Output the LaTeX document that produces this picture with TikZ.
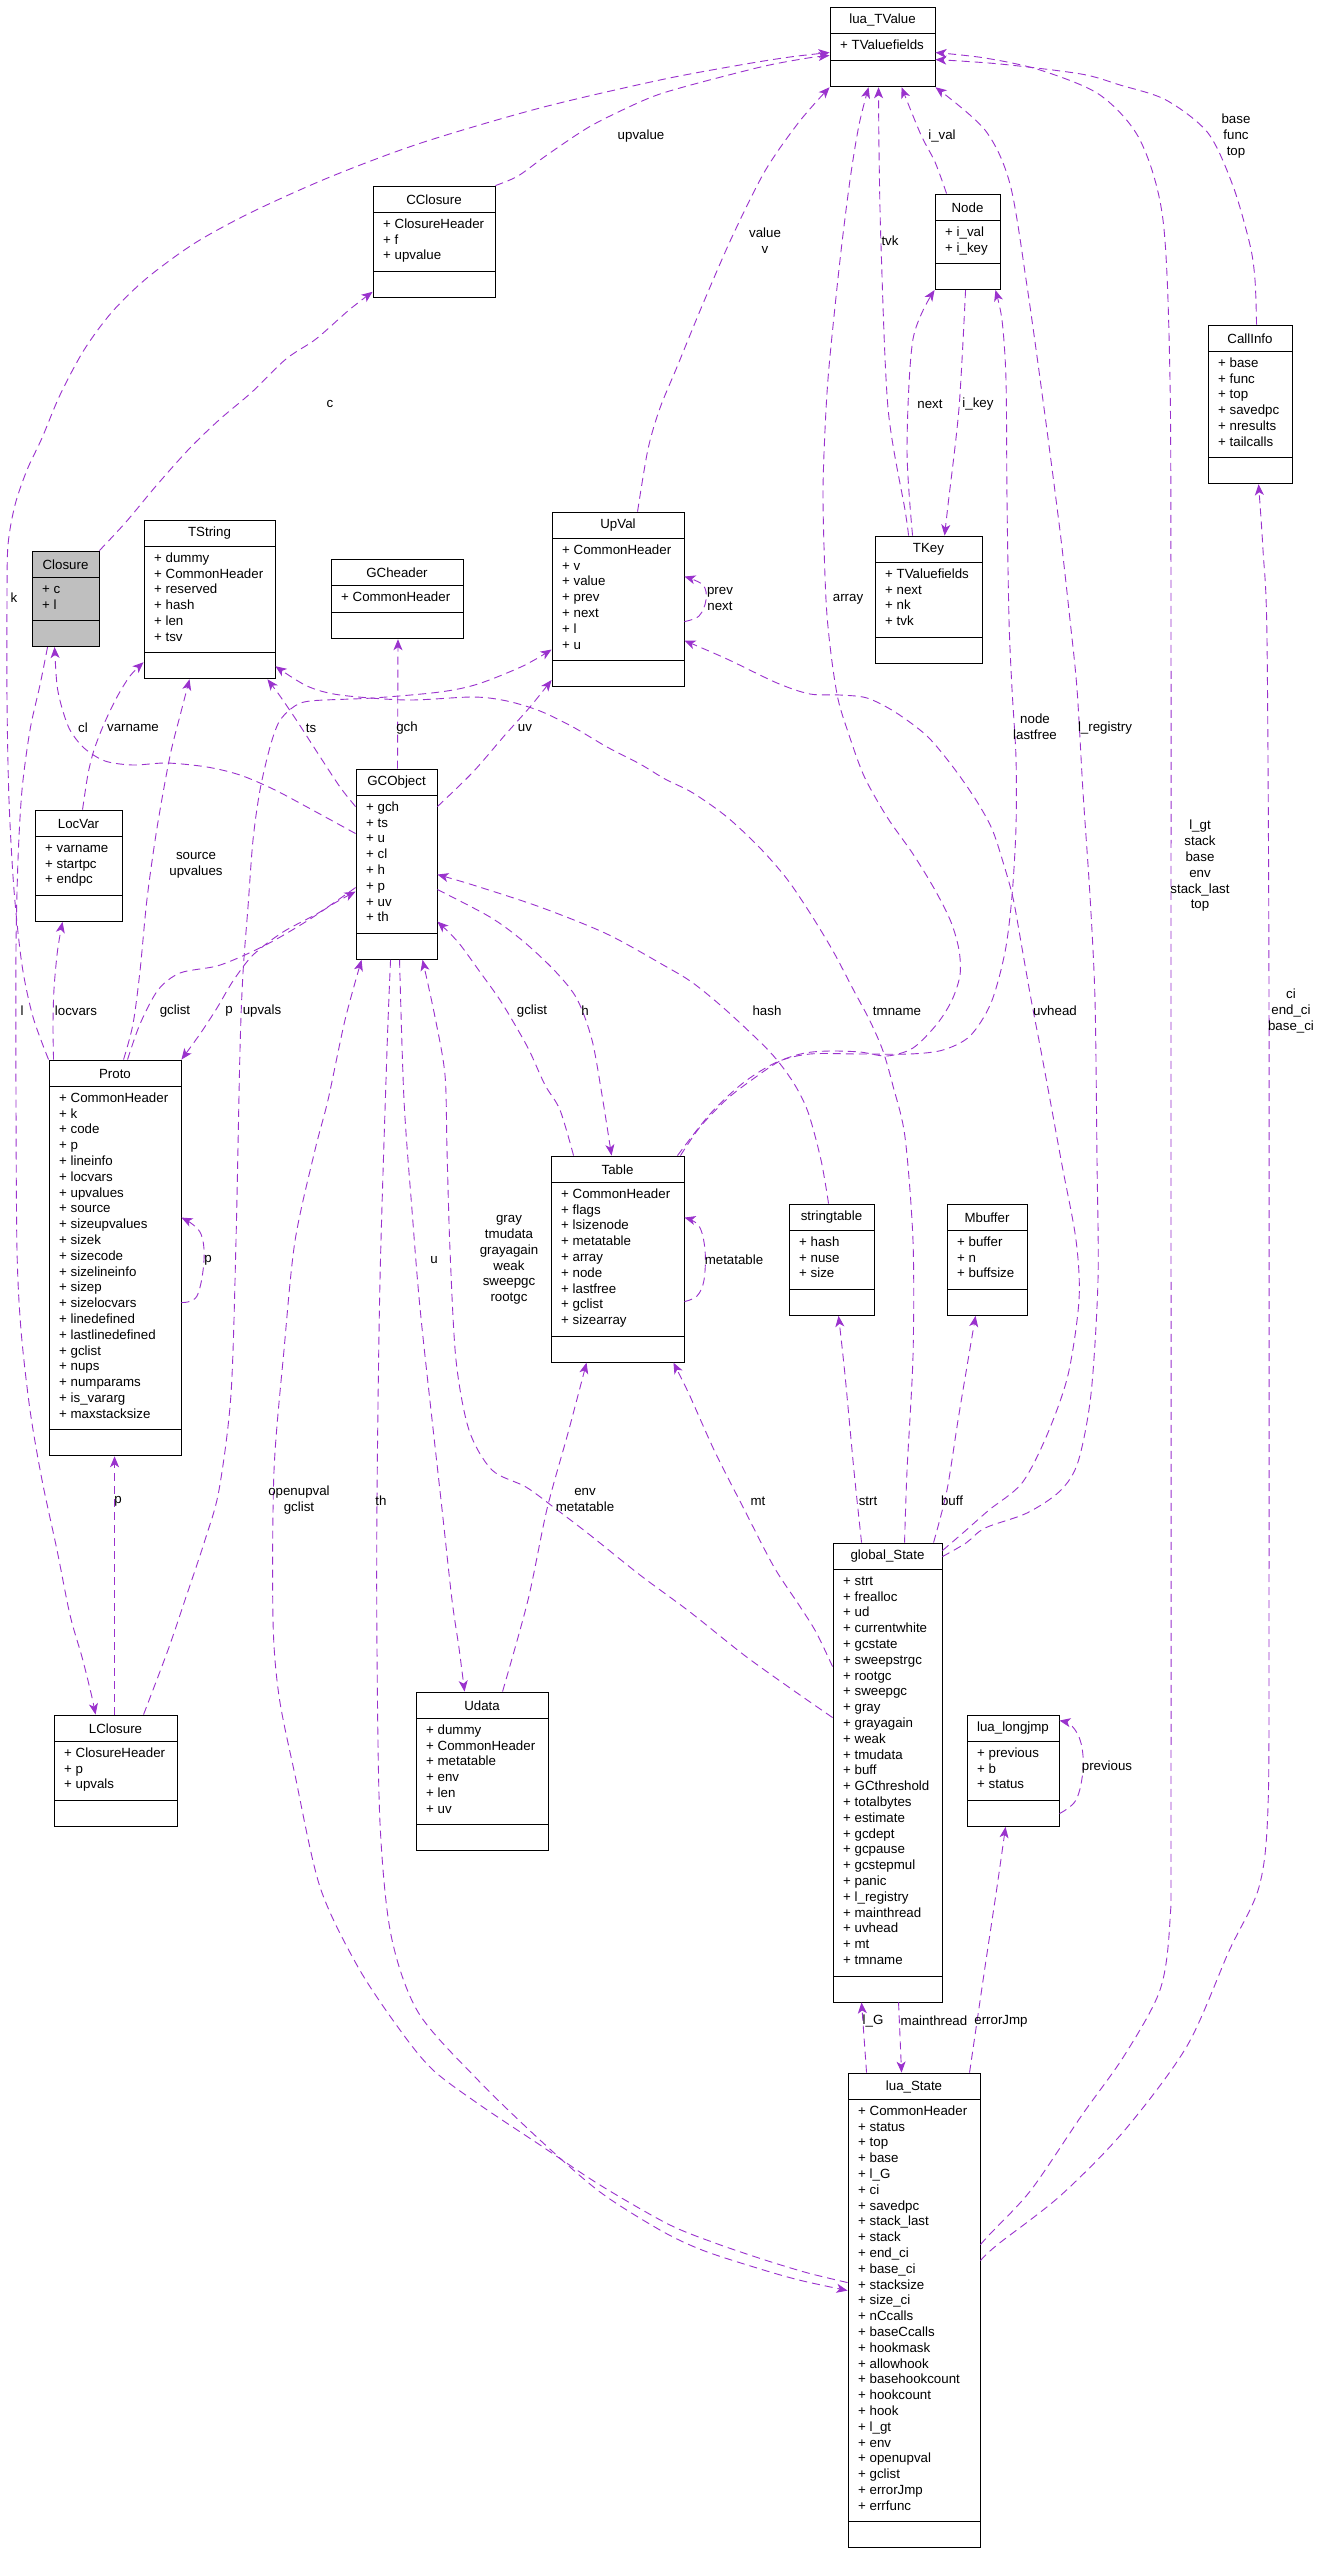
\documentclass[tikz,border=0pt]{standalone}
\usepackage{fontspec}
\setmainfont{Liberation Sans}
\usetikzlibrary{arrows.meta,fit,calc}
\definecolor{edgecol}{HTML}{9A32CD}
\definecolor{closuregray}{HTML}{BFBFBF}
\newcommand\classfont{\fontsize{13.3bp}{15.8bp}\selectfont}
% [fill] name x1 y1 x2 nrows title attrs
\newcommand\umlbox[8][white]{%
  \pgfmathsetmacro\ubdivA{#4+26}%
  \pgfmathsetmacro\ubdivB{#4+38+#6*15.8}%
  \pgfmathsetmacro\ubbot{\ubdivB+26}%
  \pgfmathsetmacro\ubmid{(#3+#5)/2}%
  \node[fit={(#3,#4) (#5,\ubbot)}, inner sep=0pt, draw=black, line width=0.9bp, fill=#1] (#2) {};
  \draw[line width=0.9bp] (#3,\ubdivA) -- (#5,\ubdivA) (#3,\ubdivB) -- (#5,\ubdivB);
  \node[font=\classfont, inner sep=0pt] (#2-t) at (\ubmid,#4+13.5) {#7};
  \node[font=\classfont, inner sep=0pt, anchor=north west, align=left] (#2-a) at (#3+10,\ubdivA+6) {\rule{0pt}{10bp}#8};
}
\tikzset{
  uses/.style={draw=edgecol, line width=0.9bp, dash pattern=on 8bp off 5bp,
    -{Stealth[length=11bp,width=9bp,inset=3bp]}},
  elab/.style={font=\classfont, align=center, inner sep=1bp, text=black}
}
\begin{document}
\begin{tikzpicture}[x=1bp,y=-1bp]
\useasboundingbox (0,0) rectangle (1321,2560);
\fill[white] (0,0) rectangle (1321,2560);

% ---------- classes ----------
\umlbox{TValue}{830}{7}{935}{1}{lua\_TValue}{+ TValuefields}
\umlbox{CClosure}{373}{186}{495}{3}{CClosure}{+ ClosureHeader\\+ f\\+ upvalue}
\umlbox{NodeC}{935}{194}{1000}{2}{Node}{+ i\_val\\+ i\_key}
\umlbox{CallInfo}{1208}{325}{1292}{6}{CallInfo}{+ base\\+ func\\+ top\\+ savedpc\\+ nresults\\+ tailcalls}
\umlbox[closuregray]{Closure}{32}{551}{99}{2}{Closure}{+ c\\+ l}
\umlbox{TString}{144}{520}{275}{6}{TString}{+ dummy\\+ CommonHeader\\+ reserved\\+ hash\\+ len\\+ tsv}
\umlbox{GCheader}{331}{559}{463}{1}{GCheader}{+ CommonHeader}
\umlbox{UpVal}{552}{512}{684}{7}{UpVal}{+ CommonHeader\\+ v\\+ value\\+ prev\\+ next\\+ l\\+ u}
\umlbox{TKey}{875}{536}{982}{4}{TKey}{+ TValuefields\\+ next\\+ nk\\+ tvk}
\umlbox{GCObject}{356}{769}{437}{8}{GCObject}{+ gch\\+ ts\\+ u\\+ cl\\+ h\\+ p\\+ uv\\+ th}
\umlbox{LocVar}{35}{810}{122}{3}{LocVar}{+ varname\\+ startpc\\+ endpc}
\umlbox{Proto}{49}{1060}{181}{21}{Proto}{+ CommonHeader\\+ k\\+ code\\+ p\\+ lineinfo\\+ locvars\\+ upvalues\\+ source\\+ sizeupvalues\\+ sizek\\+ sizecode\\+ sizelineinfo\\+ sizep\\+ sizelocvars\\+ linedefined\\+ lastlinedefined\\+ gclist\\+ nups\\+ numparams\\+ is\_vararg\\+ maxstacksize}
\umlbox{Table}{551}{1156}{684}{9}{Table}{+ CommonHeader\\+ flags\\+ lsizenode\\+ metatable\\+ array\\+ node\\+ lastfree\\+ gclist\\+ sizearray}
\umlbox{stringtable}{789}{1204}{874}{3}{stringtable}{+ hash\\+ nuse\\+ size}
\umlbox{Mbuffer}{947}{1204}{1027}{3}{Mbuffer}{+ buffer\\+ n\\+ buffsize}
\umlbox{globalState}{833}{1543}{942}{25}{global\_State}{+ strt\\+ frealloc\\+ ud\\+ currentwhite\\+ gcstate\\+ sweepstrgc\\+ rootgc\\+ sweepgc\\+ gray\\+ grayagain\\+ weak\\+ tmudata\\+ buff\\+ GCthreshold\\+ totalbytes\\+ estimate\\+ gcdept\\+ gcpause\\+ gcstepmul\\+ panic\\+ l\_registry\\+ mainthread\\+ uvhead\\+ mt\\+ tmname}
\umlbox{longjmp}{967}{1715}{1059}{3}{lua\_longjmp}{+ previous\\+ b\\+ status}
\umlbox{LClosure}{54}{1715}{177}{3}{LClosure}{+ ClosureHeader\\+ p\\+ upvals}
\umlbox{Udata}{416}{1692}{548}{6}{Udata}{+ dummy\\+ CommonHeader\\+ metatable\\+ env\\+ len\\+ uv}
\umlbox{luaState}{848}{2073}{980}{26}{lua\_State}{+ CommonHeader\\+ status\\+ top\\+ base\\+ l\_G\\+ ci\\+ savedpc\\+ stack\_last\\+ stack\\+ end\_ci\\+ base\_ci\\+ stacksize\\+ size\_ci\\+ nCcalls\\+ baseCcalls\\+ hookmask\\+ allowhook\\+ basehookcount\\+ hookcount\\+ hook\\+ l\_gt\\+ env\\+ openupval\\+ gclist\\+ errorJmp\\+ errfunc}

% ---------- connectors ----------
% c
\draw[uses] plot[smooth,tension=0.5] coordinates {(Closure.north east) (126,522) (156,486) (189,449) (219,420) (252,392) (286,359) (316,339) (349,310) ($(CClosure.south west)+(0,-6)$)};
% upvalue
\draw[uses] plot[smooth,tension=0.5] coordinates {(CClosure.north east) (518,176) (547,155) (589,127) (631,106) (660,94) (702,82) (765,66) (808,58) ($(TValue.north west)+(0,49)$)};
% k
\draw[uses] plot[smooth,tension=0.5] coordinates {(Proto.north west) (33,1017) (22,965) (14,890) (9,800) (7,700) (7,600) (8,545) (15,505) (27,470) (42,438) (60,395) (84,350) (112,312) (147,278) (195,243) (252,212) (330,177) (421,143) (540,108) (660,80) (740,65) (790,57) ($(TValue.north west)+(0,46)$)};
% l
\draw[uses] plot[smooth,tension=0.5] coordinates {($(Closure.south west)+(16,0)$) (40,685) (30,730) (22,790) (18,860) (16,950) (16,1100) (17,1250) (21,1330) (30,1410) (42,1480) (57,1550) (70,1615) (82,1657) (91,1693) ($(LClosure.north west)+(42,0)$)};
% cl
\draw[uses] plot[smooth,tension=0.5] coordinates {($(GCObject.north west)+(0,65)$) (307,807) (273,789) (240,775) (207,767) (167,763) (133,765) (105,761) (84,748) (70,730) (62,708) (57,685) ($(Closure.south west)+(23,0)$)};
% varname
\draw[uses] plot[smooth,tension=0.5] coordinates {($(LocVar.north west)+(48,0)$) (88,774) (94,750) (104,724) (117,697) (130,676) ($(TString.south west)+(0,-17)$)};
% locvars
\draw[uses] plot[smooth,tension=0.5] coordinates {($(Proto.north west)+(5,0)$) (53,1024) (54,989) (57,955) (60,935) ($(LocVar.south west)+(28,0)$)};
% source upvalues
\draw[uses] plot[smooth,tension=0.5] coordinates {($(Proto.north west)+(75,0)$) (133,1024) (140,971) (147,899) (157,828) (170,756) (181,712) ($(TString.south west)+(46,0)$)};
% gclist Proto -> GCObject
\draw[uses] plot[smooth,tension=0.5] coordinates {($(Proto.north west)+(79,0)$) (140,1024) (158,990) (180,973) (217,966) (247,954) (275,940) (307,921) (333,904) ($(GCObject.north west)+(0,123)$)};
% p GCObject -> Proto
\draw[uses] plot[smooth,tension=0.5] coordinates {($(GCObject.north west)+(0,119)$) (320,912) (283,932) (253,955) (233,981) (217,1008) (200,1034) (Proto.north east)};
% upvals
\draw[uses] plot[smooth,tension=0.5] coordinates {($(LClosure.north west)+(90,0)$) (168,1650) (185,1600) (205,1540) (219,1490) (231,1394) (236,1241) (240,1050) (243,973) (248,907) (253,840) (260,790) (270,747) (279,722) (292,708) (310,701) (373,698) (440,692) (478,684) (523,666) ($(UpVal.north west)+(0,138)$)};
% ts
\draw[uses] plot[smooth,tension=0.5] coordinates {($(GCObject.north west)+(0,38)$) (340,787) (317,752) (297,721) (280,696) ($(TString.south east)+(-8,0)$)};
% tmname
\draw[uses] plot[smooth,tension=0.5] coordinates {($(globalState.north west)+(72,0)$) (907,1471) (913,1356) (913,1241) (905,1137) (893,1086) (883,1051) (870,1021) (853,989) (833,951) (810,913) (787,879) (760,848) (727,817) (693,793) (665,779) (640,764) (607,747) (573,727) (540,711) (507,701) (473,697) (407,700) (340,695) (307,686) ($(TString.south east)+(0,-13)$)};
% gch
\draw[uses] ($(GCObject.north)+(1,0)$) -- ($(GCheader.south)+(1,0)$);
% uv
\draw[uses] plot[smooth,tension=0.5] coordinates {($(GCObject.north east)+(0,38)$) (473,772) (505,735) (530,707) ($(UpVal.south west)+(0,-7)$)};
% hash
\draw[uses] plot[smooth,tension=0.5] coordinates {($(stringtable.north west)+(40,0)$) (821,1160) (808,1112) (793,1082) (770,1052) (727,1011) (693,983) (665,966) (607,934) (540,907) (473,885) ($(GCObject.north east)+(0,106)$)};
% h
\draw[uses] plot[smooth,tension=0.5] coordinates {($(GCObject.north east)+(0,121)$) (490,917) (523,941) (555,971) (577,999) (592,1040) (602,1095) ($(Table.north west)+(61,0)$)};
% gclist Table -> GCObject
\draw[uses] plot[smooth,tension=0.5] coordinates {($(Table.north west)+(23,0)$) (560,1110) (545,1085) (530,1052) (518,1030) (500,1000) (480,972) (458,942) ($(GCObject.north east)+(0,153)$)};
% metatable (self)
\draw[uses] plot[smooth,tension=0.6] coordinates {($(Table.north east)+(0,146)$) (697,1296) (704,1280) (705,1250) (699,1226) ($(Table.north east)+(0,62)$)};
% array
\draw[uses] plot[smooth,tension=0.5] coordinates {($(Table.north east)+(-4,0)$) (700,1127) (727,1099) (753,1079) (780,1061) (805,1053) (830,1051) (860,1052) (887,1056) (913,1048) (937,1024) (952,1000) (960,975) (959,950) (951,922) (935,890) (913,854) (887,817) (864,776) (848,732) (838,699) (831,654) (826,600) (823,500) (825,430) (829,367) (840,260) (850,180) (859,125) ($(TValue.south west)+(39,0)$)};
% node lastfree
\draw[uses] plot[smooth,tension=0.5] coordinates {($(Table.north east)+(-7,0)$) (710,1114) (743,1083) (777,1062) (810,1054) (860,1054) (910,1054) (943,1050) (970,1036) (991,1003) (1005,952) (1012,896) (1016,827) (1016,758) (1012,689) (1009,620) (1007,500) (1006,380) (1002,320) ($(NodeC.south east)+(-5,0)$)};
% uvhead
\draw[uses] plot[smooth,tension=0.5] coordinates {($(globalState.north east)+(0,8)$) (964,1532) (989,1510) (1022,1483) (1047,1435) (1068,1375) (1079,1300) (1076,1240) (1062,1165) (1051,1105) (1041,1051) (1031,999) (1022,948) (1013,898) (1003,862) (992,829) (976,800) (953,767) (927,736) (895,712) (867,698) (840,695) (810,694) (777,683) (727,659) ($(UpVal.north east)+(0,129)$)};
% l_registry
\draw[uses] plot[smooth,tension=0.5] coordinates {($(globalState.north east)+(0,14)$) (966,1543) (985,1528) (1027,1513) (1060,1491) (1078,1462) (1091,1394) (1098,1280) (1097,1160) (1095,1000) (1090,896) (1083,792) (1077,689) (1070,620) (1060,531) (1044,408) (1027,286) (1010,184) (985,130) (TValue.south east)};
% l_gt stack base env stack_last top
\draw[uses] plot[smooth,tension=0.5] coordinates {($(luaState.north east)+(0,172)$) (990,2234) (1031,2190) (1082,2115) (1124,2056) (1160,1990) (1170,1920) (1171,1800) (1171,1000) (1171,640) (1170,380) (1163,220) (1140,140) (1100,95) (1040,70) (985,58) ($(TValue.north east)+(0,46)$)};
% base func top
\draw[uses] plot[smooth,tension=0.5] coordinates {($(CallInfo.north west)+(49,0)$) (1255,280) (1250,245) (1233,186) (1208,133) (1166,100) (1120,85) (1081,74) (1000,64) ($(TValue.north east)+(0,53)$)};
% ci end_ci base_ci
\draw[uses] plot[smooth,tension=0.5] coordinates {($(luaState.north east)+(0,188)$) (997,2245) (1060,2196) (1124,2131) (1187,2046) (1229,1951) (1259,1887) (1268,1807) (1269,1600) (1269,1000) (1267,640) (1263,550) ($(CallInfo.south west)+(51,0)$)};
% value v
\draw[uses] plot[smooth,tension=0.5] coordinates {($(UpVal.north west)+(86,0)$) (648,449) (660,408) (677,367) (702,306) (732,237) (765,171) (799,122) (TValue.south west)};
% i_val
\draw[uses] plot[smooth,tension=0.5] coordinates {($(NodeC.north west)+(12,0)$) (935,162) (921,135) ($(TValue.south west)+(72,0)$)};
% tvk
\draw[uses] plot[smooth,tension=0.5] coordinates {($(TKey.north west)+(34,0)$) (905,510) (888,408) (881,245) (879,150) ($(TValue.south west)+(49,0)$)};
% next
\draw[uses] plot[smooth,tension=0.5] coordinates {($(TKey.north west)+(38,0)$) (907,449) (913,339) (NodeC.south west)};
% i_key
\draw[uses] plot[smooth,tension=0.5] coordinates {($(NodeC.south west)+(31,0)$) (959,408) (948,505) ($(TKey.north west)+(70,0)$)};
% prev next (self)
\draw[uses] plot[smooth,tension=0.6] coordinates {($(UpVal.north east)+(0,110)$) (699,616) (706,600) (703,585) ($(UpVal.north east)+(0,65)$)};
% p (Proto self)
\draw[uses] plot[smooth,tension=0.6] coordinates {($(Proto.north east)+(0,243)$) (197,1296) (204,1260) (200,1232) ($(Proto.north east)+(0,158)$)};
% previous (self)
\draw[uses] plot[smooth,tension=0.6] coordinates {($(longjmp.north east)+(0,99)$) (1076,1800) (1083,1770) (1081,1743) (1072,1726) ($(longjmp.north east)+(0,6)$)};
% strt
\draw[uses] plot[smooth,tension=0.5] coordinates {($(globalState.north west)+(29,0)$) (854,1471) (845,1375) ($(stringtable.south west)+(50,0)$)};
% buff
\draw[uses] plot[smooth,tension=0.5] coordinates {($(globalState.north west)+(101,0)$) (947,1490) (959,1414) ($(Mbuffer.south west)+(29,0)$)};
% mt
\draw[uses] plot[smooth,tension=0.5] coordinates {($(globalState.north west)+(0,124)$) (816,1632) (799,1605) (774,1567) (744,1509) (715,1452) (689,1394) ($(Table.south east)+(-11,0)$)};
% gray tmudata grayagain weak sweepgc rootgc
\draw[uses] plot[smooth,tension=0.5] coordinates {($(globalState.north west)+(0,175)$) (790,1688) (744,1655) (690,1612) (640,1575) (590,1535) (556,1509) (526,1487) (492,1470) (469,1430) (456,1360) (450,1250) (447,1150) (445,1075) (435,1017) ($(GCObject.south west)+(67,0)$)};
% openupval gclist
\draw[uses] plot[smooth,tension=0.5] coordinates {($(luaState.north west)+(0,210)$) (808,2273) (765,2260) (715,2243) (668,2224) (600,2185) (540,2145) (480,2105) (433,2070) (400,2030) (358,1967) (320,1887) (295,1775) (279,1696) (273,1620) (274,1471) (284,1350) (295,1241) (315,1150) (328,1100) (345,1020) ($(GCObject.south west)+(6,0)$)};
% th
\draw[uses] plot[smooth,tension=0.5] coordinates {($(GCObject.south west)+(35,0)$) (387,1050) (380,1280) (377,1500) (377,1650) (380,1823) (391,1935) (418,2012) (476,2078) (540,2140) (600,2192) (660,2230) (702,2250) (757,2268) (799,2280) ($(luaState.north west)+(0,218)$)};
% u
\draw[uses] plot[smooth,tension=0.5] coordinates {($(GCObject.south west)+(44,0)$) (404,1100) (412,1210) (421,1318) (442,1509) (452,1600) (459,1648) ($(Udata.north west)+(49,0)$)};
% env metatable
\draw[uses] plot[smooth,tension=0.5] coordinates {($(Udata.north west)+(87,0)$) (528,1600) (547,1509) (568,1433) ($(Table.south west)+(36,0)$)};
% l_G
\draw[uses] ($(luaState.north west)+(19,0)$) -- ($(globalState.south west)+(29,0)$);
% mainthread
\draw[uses] ($(globalState.south west)+(66,0)$) -- ($(luaState.north west)+(54,0)$);
% errorJmp
\draw[uses] plot[smooth,tension=0.5] coordinates {($(luaState.north west)+(122,0)$) (985,1967) (997,1887) ($(longjmp.south west)+(39,0)$)};
% p LClosure -> Proto
\draw[uses] ($(LClosure.north west)+(61,0)$) -- ($(Proto.south west)+(66,0)$);

% ---------- labels ----------
\node[elab] (L1) at (330,404) {c};
\node[elab] (L2) at (641,136) {upvalue};
\node[elab] (L3) at (14,598) {k};
\node[elab] (L4) at (22,1011) {l};
\node[elab] (L5) at (83,728) {cl};
\node[elab] (L6) at (133,728) {varname};
\node[elab] (L7) at (76,1011) {locvars};
\node[elab] (L8) at (196,865) {source\\upvalues};
\node[elab] (L9) at (175,1011) {gclist};
\node[elab] (L10) at (229,1011) {p};
\node[elab] (L11) at (262,1011) {upvals};
\node[elab] (L12) at (311,728) {ts};
\node[elab] (L13) at (897,1011) {tmname};
\node[elab] (L14) at (407,728) {gch};
\node[elab] (L15) at (525,728) {uv};
\node[elab] (L16) at (767,1011) {hash};
\node[elab] (L17) at (585,1011) {h};
\node[elab] (L18) at (532,1011) {gclist};
\node[elab] (L19) at (734,1260) {metatable};
\node[elab] (L20) at (848,599) {array};
\node[elab] (L21) at (1035,727) {node\\lastfree};
\node[elab] (L22) at (1055,1011) {uvhead};
\node[elab] (L23) at (1105,728) {l\_registry};
\node[elab] (L24) at (1200,866) {l\_gt\\stack\\base\\env\\stack\_last\\top};
\node[elab] (L25) at (1236,136) {base\\func\\top};
\node[elab] (L26) at (1291,1011) {ci\\end\_ci\\base\_ci};
\node[elab] (L27) at (765,241) {value\\v};
\node[elab] (L28) at (942,136) {i\_val};
\node[elab] (L29) at (890,241) {tvk};
\node[elab] (L30) at (930,404) {next};
\node[elab] (L31) at (978,404) {i\_key};
\node[elab] (L32) at (720,599) {prev\\next};
\node[elab] (L33) at (208,1260) {p};
\node[elab] (L34) at (1107,1767) {previous};
\node[elab] (L35) at (868,1501) {strt};
\node[elab] (L36) at (952,1501) {buff};
\node[elab] (L37) at (758,1501) {mt};
\node[elab] (L38) at (509,1260) {gray\\tmudata\\grayagain\\weak\\sweepgc\\rootgc};
\node[elab] (L39) at (299,1500) {openupval\\gclist};
\node[elab] (L40) at (381,1501) {th};
\node[elab] (L41) at (434,1260) {u};
\node[elab] (L42) at (585,1500) {env\\metatable};
\node[elab] (L43) at (873,2021) {l\_G};
\node[elab] (L44) at (934,2021) {mainthread};
\node[elab] (L45) at (1001,2021) {errorJmp};
\node[elab] (L46) at (118,1501) {p};
\end{tikzpicture}
\end{document}
